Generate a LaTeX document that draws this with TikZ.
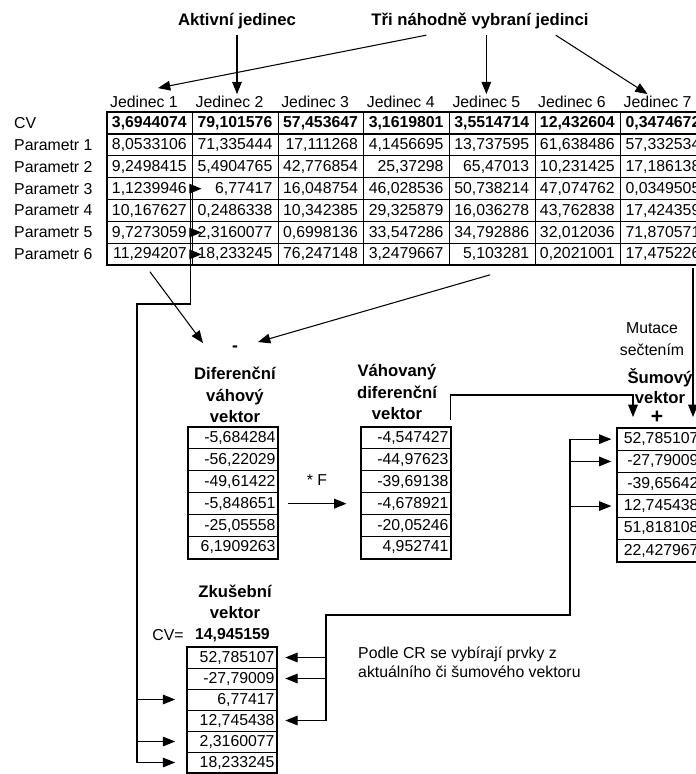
\documentclass[tikz,border=0pt]{standalone}
\usepackage{fontspec}
\setmainfont{Liberation Sans}
\usetikzlibrary{arrows.meta,calc}

\begin{document}
\begin{tikzpicture}[x=0.02cm,y=-0.02cm,font=\fontsize{9}{11}\selectfont,
  tip/.style={line width=0.6pt,-{Triangle[length=7pt,width=5.5pt]}},
  link/.style={line width=0.6pt},
  title/.style={font=\bfseries\fontsize{9.5}{12.3}\selectfont,align=center},
  cell/.style={anchor=east,inner sep=2pt},
  vec/.style={draw,line width=0.5pt,minimum width=1.8cm,minimum height=#1*0.02cm,inner sep=0pt,text width=1.7cm,align=right}]
\useasboundingbox (0,0) rectangle (696,774);
\clip (0,0) rectangle (696,774);
\node[title] (akt) at (237,21) {Aktivní jedinec};
\node[title] (tri) at (480,21) {Tři náhodně vybraní jedinci};
\foreach \col in {1,...,7} \node[anchor=west,inner sep=1pt] (h\col) at (22.4+85.6*\col,102) {Jedinec \col};
\draw[tip] (akt.south) -- (akt.south |- h2.north);
\draw[tip] ($(tri.south west)+(61,0)$) -- ($(h1.north)+(14,-6)$);
\draw[tip] (h5.north |- tri.south) -- (h5.north);
\draw[tip] ($(tri.south east)+(-39,0)$) -- ($(h7.north)+(-10,0)$);
\node[anchor=west] (cv) at (8,123) {CV};
\foreach \rw in {1,...,6} \node[anchor=west] (p\rw) at (8,123+21.9*\rw) {Parametr \rw};
\draw[line width=1.2pt] (107,112) rectangle (706,265.4);
\draw[line width=0.9pt] (107,133.9) -- (706,133.9);
\foreach \rw in {2,...,6} \draw[line width=0.5pt] (107,112+21.9*\rw) -- (706,112+21.9*\rw);
\foreach \col in {1,...,7} \draw[line width=0.5pt] (107+85.6*\col,112) -- (107+85.6*\col,265.4);
\foreach \v [count=\col] in {{3,6944074},{79,101576},{57,453647},{3,1619801},{3,5514714},{12,432604},{0,3474672}}
  \node[cell,font=\bfseries\fontsize{9}{11}\selectfont] (c\col-0) at (105+85.6*\col,123) {\v};
\foreach \vals [count=\rw] in {
  {{8,0533106},{71,335444},{17,111268},{4,1456695},{13,737595},{61,638486},{57,332534}},
  {{9,2498415},{5,4904765},{42,776854},{25,37298},{65,47013},{10,231425},{17,186138}},
  {{1,1239946},{6,77417},{16,048754},{46,028536},{50,738214},{47,074762},{0,0349505}},
  {{10,167627},{0,2486338},{10,342385},{29,325879},{16,036278},{43,762838},{17,424359}},
  {{9,7273059},{2,3160077},{0,6998136},{33,547286},{34,792886},{32,012036},{71,870571}},
  {{11,294207},{18,233245},{76,247148},{3,2479667},{5,103281},{0,2021001},{17,475226}}}
  \foreach \v [count=\col] in \vals \node[cell] (c\col-\rw) at (105+85.6*\col,123+21.9*\rw) {\v};
\foreach \rw in {3,5,6} \draw[tip] (c1-\rw.east) -- ++(11,0);
\node[font=\bfseries\fontsize{10}{12}\selectfont] (minus) at (235,349) {-};
\draw[tip] ($(c1-6.south)+(0,7)$) -- ($(minus)+(-32,-6)$);
\draw[tip] ($(c5-6.south)+(-6,10)$) -- ($(minus)+(23,-7)$);
\node[title] (dtit) at (235,395) {Diferenční\\váhový\\vektor};
\foreach \v [count=\i] in {{-5,684284},{-56,22029},{-49,61422},{-5,848651},{-25,05558},{6,1909263}}
  \node[vec=21.9] (d\i) at (233,416.05+21.9*\i) {\v};
\draw[line width=1.2pt] (d1.north west) rectangle (d6.south east);
\node[title] (wtit) at (397,392) {Váhovaný\\diferenční\\vektor};
\foreach \v [count=\i] in {{-4,547427},{-44,97623},{-39,69138},{-4,678921},{-20,05246},{4,952741}}
  \node[vec=21.9] (w\i) at (406,416.05+21.9*\i) {\v};
\draw[line width=1.2pt] (w1.north west) rectangle (w6.south east);
\node (f) at (317,480) {* F};
\draw[tip,shorten <=5.5pt,shorten >=8pt] (d4) -- (w4);
\node[align=center,font=\fontsize{9}{12.5}\selectfont] (mut) at (652,339) {Mutace\\sečtením};
\node[title,font=\bfseries\fontsize{9.5}{11.3}\selectfont] (sum) at (660,386) {Šumový\\vektor};
\node[font=\bfseries\fontsize{12}{12}\selectfont,inner sep=0pt] (plus) at (657,417) {+};
\foreach \v [count=\i] in {{52,785107},{-27,79009},{-39,65642},{12,745438},{51,818108},{22,427967}}
  \node[vec=22.3,minimum width=1.66cm,text width=1.6cm] (s\i) at (658.5,416.85+22.3*\i) {\v};
\draw[line width=1.2pt] (s1.north west) rectangle (s6.south east);
\coordinate (plusL) at (633,417);
\coordinate (plusR) at (693,417);
\draw[tip] ($(w1.north east)+(-1,-7)$) |- ([yshift=0.44cm]plusL) -- (plusL);
\draw[tip] ($(plusR |- c7-6.south)+(0,3)$) -- (plusR);
\node[title] (ztit) at (235,602) {Zkušební\\vektor};
\node (cvz) at (168,635) {CV=};
\node[anchor=east,font=\bfseries\fontsize{9}{11}\selectfont] (cvv) at (276,635) {14,945159};
\foreach \v [count=\i] in {{52,785107},{-27,79009},{6,77417},{12,745438},{2,3160077},{18,233245}}
  \node[vec=21] (z\i) at (232,636.5+21*\i) {\v};
\draw[line width=1.2pt] (z1.north west) rectangle (z6.south east);
\node[anchor=west,align=left] (podle) at (352,662) {Podle CR se vybírají prvky z\\aktuálního či šumového vektoru};
\coordinate (nb) at (570,615);
\coordinate (nc) at (326,615);
\draw[link] (nb |- s1) -- (nb) -- (nc) -- (nc |- z4);
\foreach \i in {1,2,4} {\draw[tip,shorten >=3pt] (nb |- s\i) -- (s\i); \draw[tip,shorten >=4.5pt] (nc |- z\i) -- (z\i);}
\coordinate (lt) at (137,304);
\draw[link] (c1-3.east) |- (lt) -- (lt |- z6);
\foreach \i in {3,5,6} \draw[tip,shorten >=6.5pt] (lt |- z\i) -- (z\i);
\end{tikzpicture}
\end{document}
